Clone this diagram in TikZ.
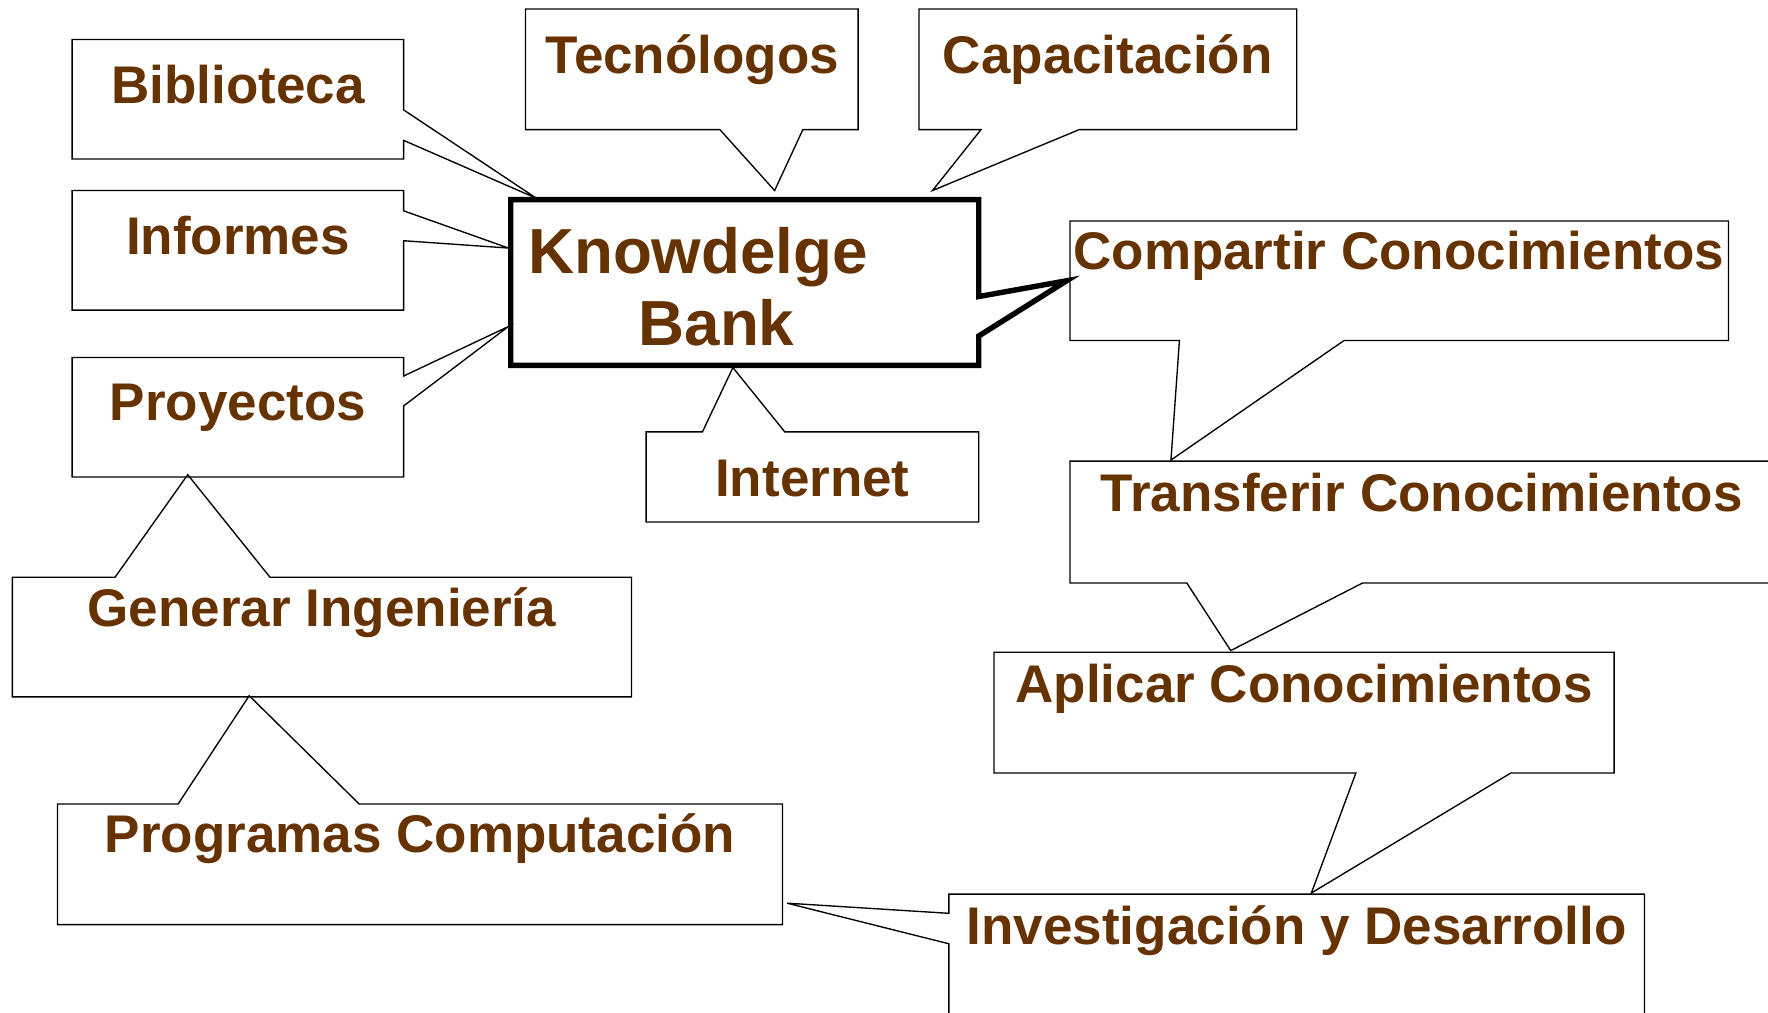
\documentclass[tikz,border=0pt]{standalone}
\usepackage{fontspec}
\setmainfont{Liberation Sans}
\definecolor{txtbrown}{RGB}{102,51,0}
\begin{document}
\begin{tikzpicture}[x=0.5pt,y=-0.5pt,
  callout/.style={draw=black, line width=0.6pt, line join=miter},
  mainbox/.style={draw=black, line width=2.4pt, line join=miter},
  lbl/.style={anchor=base, inner sep=0pt, text=txtbrown, font=\bfseries\fontsize{23.5}{28}\selectfont},
  biglbl/.style={anchor=base west, inner sep=0pt, text=txtbrown, font=\bfseries\fontsize{28.25}{33}\selectfont}]
\useasboundingbox (0,0) rectangle (1568,898);
\fill[white] (0,0) rectangle (1568,898);

% callout outlines
\draw[callout] (64,35) -- (358,35) -- (358,97.5) -- (476,176) -- (358,124.5) -- (358,141) -- (64,141) -- cycle;
\draw[callout] (64,169) -- (358,169) -- (358,187) -- (451,220) -- (358,213.5) -- (358,275) -- (64,275) -- cycle;
\draw[callout] (64,317) -- (358,317) -- (358,333.5) -- (451,289.5) -- (358,360) -- (358,423) -- (64,423) -- cycle;
\draw[mainbox] (453,177) -- (868,177) -- (868,263) -- (946,249) -- (868,298) -- (868,324) -- (453,324) -- cycle;
\draw[callout] (466,8) -- (761,8) -- (761,115) -- (712,115) -- (687,169) -- (638.5,115) -- (466,115) -- cycle;
\draw[callout] (815,8) -- (1150,8) -- (1150,115) -- (957,115) -- (827,169) -- (870,115) -- (815,115) -- cycle;
\draw[callout] (949,196) -- (1533,196) -- (1533,302) -- (1192,302) -- (1038.5,408) -- (1046,302) -- (949,302) -- cycle;
\draw[callout] (949,409) -- (1580,409) -- (1580,517) -- (1208.5,517) -- (1091.5,577) -- (1052.5,517) -- (949,517) -- cycle;
\draw[callout] (881.5,578.5) -- (1431.5,578.5) -- (1431.5,685.5) -- (1340,685.5) -- (1163,792) -- (1202.5,685.5) -- (881.5,685.5) -- cycle;
\draw[callout] (698,801) -- (841.5,810) -- (841.5,793) -- (1458.5,793) -- (1458.5,910) -- (841.5,910) -- (841.5,837) -- cycle;
\draw[callout] (51,713) -- (158,713) -- (221,617) -- (318.5,713) -- (694,713) -- (694,820) -- (51,820) -- cycle;
\draw[callout] (11,512) -- (102,512) -- (166.5,421) -- (239.5,512) -- (560,512) -- (560,618) -- (11,618) -- cycle;
\draw[callout] (573,383) -- (623,383) -- (650,326) -- (696,383) -- (868,383) -- (868,463) -- (573,463) -- cycle;

% labels
\node[lbl] (bib) at (211,92) {Biblioteca};
\node[lbl] (inf) at (211,226) {Informes};
\node[lbl] (pro) at (211,373) {Proyectos};
\node[lbl] (tec) at (614,65) {Tecnólogos};
\node[lbl] (cap) at (982.5,65) {Capacitación};
\node[biglbl] (kb1) at (468,242.5) {Knowdelge};
\node[biglbl] (kb2) at (566,306.5) {Bank};
\node[lbl] (int) at (720.5,440) {Internet};
\node[lbl] (com) at (1240.5,239) {Compartir Conocimientos};
\node[lbl] (tra) at (1261,454) {Transferir Conocimientos};
\node[lbl] (apl) at (1156.5,623) {Aplicar Conocimientos};
\node[lbl] (inv) at (1150,837.5) {Investigación y Desarrollo};
\node[lbl] (prg) at (372.5,756) {Programas Computación};
\node[lbl] (gen) at (285.5,556) {Generar Ingeniería};
\end{tikzpicture}
\end{document}
